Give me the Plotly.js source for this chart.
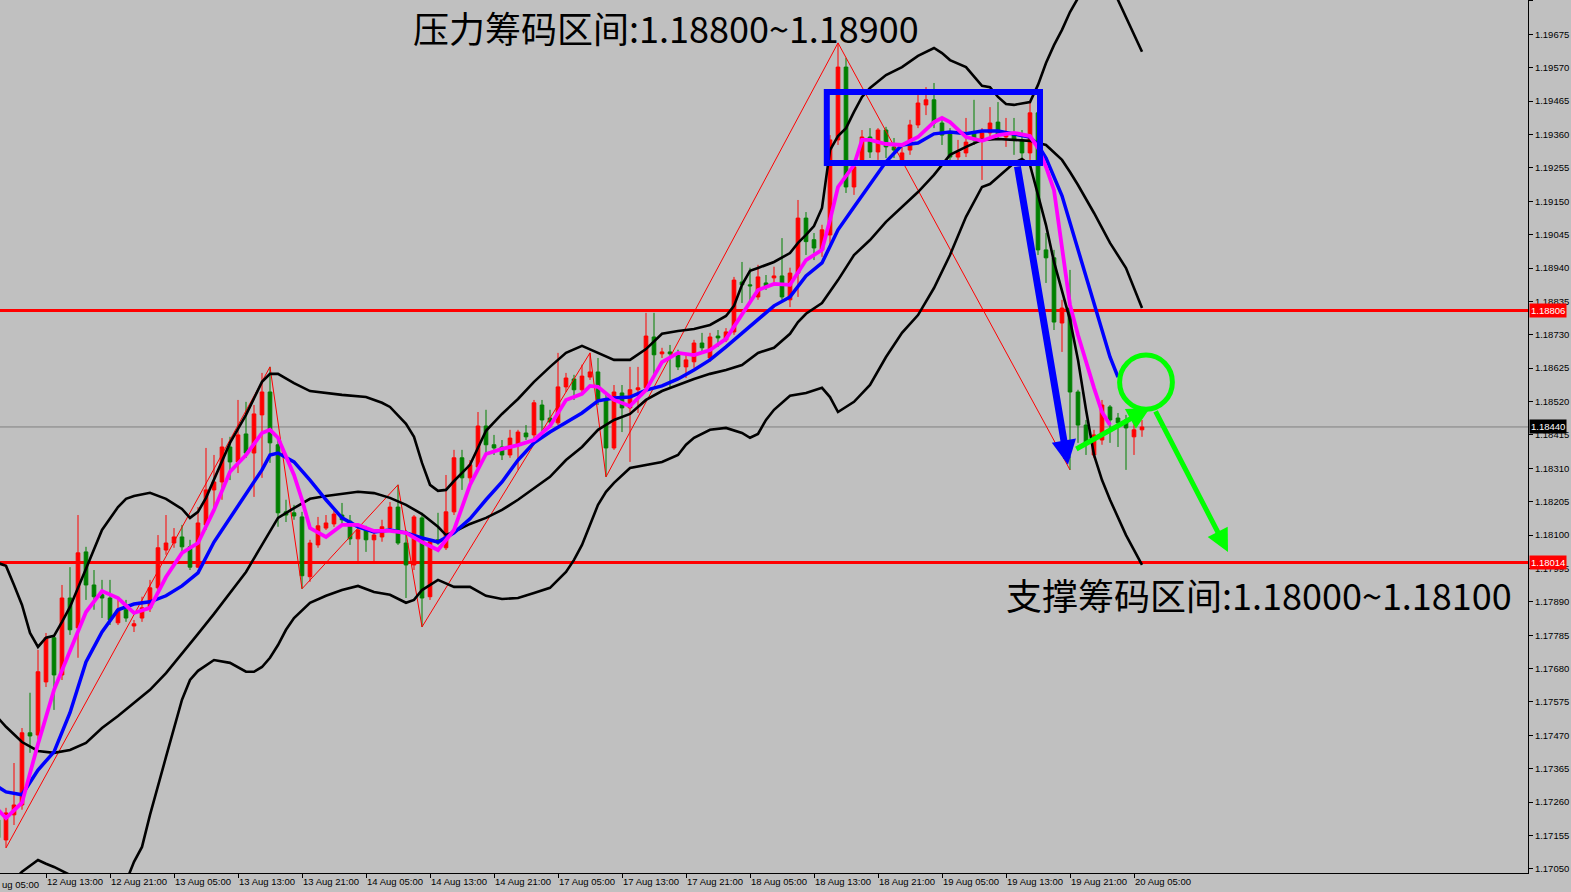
<!DOCTYPE html>
<html>
<head>
<meta charset="utf-8">
<script src="https://cdn.plot.ly/plotly-3.0.1.min.js"></script>
<style>
html,body{margin:0;padding:0;background:#C0C0C0;}
#chart{width:1571px;height:892px;}
</style>
</head>
<body>
<div id="chart"></div>
<script>
// ---- Candles (H1 EURUSD), first bar is index -1 ----
var opens = [1.17204,1.17141,1.17220,1.17251,1.17478,1.17471,1.17638,1.17777,1.17660,1.17902,1.17808,1.18047,1.17943,1.17912,1.17902,1.17824,1.17865,1.17814,1.17839,1.17871,1.17934,1.18053,1.18075,1.18094,1.18063,1.17999,1.18132,1.18242,1.18267,1.18377,1.18330,1.18418,1.18358,1.18478,1.18550,1.18384,1.18173,1.18170,1.18157,1.17969,1.18069,1.18122,1.18135,1.18163,1.18144,1.18088,1.18116,1.18085,1.18094,1.18122,1.18188,1.18075,1.18006,1.18154,1.17906,1.18085,1.18060,1.18173,1.18343,1.18280,1.18314,1.18443,1.18384,1.18377,1.18352,1.18384,1.18421,1.18415,1.18509,1.18468,1.18453,1.18566,1.18591,1.18557,1.18597,1.18613,1.18525,1.18374,1.18547,1.18500,1.18557,1.18563,1.18723,1.18670,1.18676,1.18673,1.18629,1.18645,1.18704,1.18657,1.18726,1.18714,1.18739,1.18896,1.18887,1.18849,1.18893,1.18909,1.18915,1.18840,1.18924,1.19097,1.19029,1.18997,1.19044,1.19343,1.19572,1.19195,1.19280,1.19352,1.19305,1.19374,1.19321,1.19280,1.19311,1.19390,1.19453,1.19469,1.19396,1.19365,1.19289,1.19302,1.19365,1.19343,1.19365,1.19399,1.19352,1.19365,1.19343,1.19302,1.19428,1.18997,1.18972,1.18767,1.18814,1.18550,1.18446,1.18352,1.18399,1.18503,1.18468,1.18462,1.18409,1.18431];
var highs = [1.17220,1.17242,1.17383,1.17493,1.17604,1.17739,1.17792,1.17786,1.17943,1.17999,1.18163,1.18063,1.17990,1.17959,1.17959,1.17896,1.17896,1.17833,1.17906,1.17959,1.18100,1.18163,1.18122,1.18132,1.18085,1.18188,1.18374,1.18352,1.18405,1.18409,1.18525,1.18519,1.18509,1.18610,1.18629,1.18399,1.18211,1.18195,1.18173,1.18085,1.18157,1.18163,1.18185,1.18201,1.18163,1.18129,1.18129,1.18116,1.18148,1.18204,1.18258,1.18116,1.18163,1.18170,1.18085,1.18170,1.18289,1.18368,1.18368,1.18336,1.18487,1.18494,1.18415,1.18399,1.18431,1.18431,1.18446,1.18525,1.18525,1.18494,1.18673,1.18610,1.18604,1.18636,1.18673,1.18657,1.18541,1.18572,1.18572,1.18629,1.18629,1.18799,1.18799,1.18689,1.18698,1.18683,1.18667,1.18714,1.18736,1.18736,1.18745,1.18751,1.18912,1.18959,1.18941,1.18950,1.18918,1.18944,1.19034,1.18941,1.19154,1.19116,1.19050,1.19076,1.19358,1.19648,1.19601,1.19280,1.19374,1.19380,1.19380,1.19384,1.19349,1.19327,1.19406,1.19484,1.19509,1.19522,1.19412,1.19380,1.19343,1.19412,1.19469,1.19380,1.19446,1.19462,1.19412,1.19412,1.19374,1.19459,1.19437,1.19050,1.18997,1.18840,1.18934,1.18557,1.18462,1.18431,1.18525,1.18509,1.18484,1.18478,1.18453,1.18462];
var lows = [1.17125,1.17116,1.17188,1.17236,1.17415,1.17456,1.17622,1.17550,1.17644,1.17786,1.17714,1.17896,1.17865,1.17839,1.17817,1.17817,1.17827,1.17795,1.17827,1.17858,1.17921,1.18038,1.18060,1.18047,1.17990,1.17996,1.18116,1.18173,1.18211,1.18273,1.18295,1.18343,1.18220,1.18280,1.18327,1.18126,1.18141,1.18148,1.17931,1.17953,1.18060,1.18116,1.18126,1.18132,1.18069,1.18016,1.18047,1.18016,1.18079,1.18116,1.18069,1.17902,1.17990,1.17811,1.17896,1.18069,1.18053,1.18163,1.18242,1.18258,1.18305,1.18358,1.18352,1.18336,1.18343,1.18305,1.18399,1.18405,1.18409,1.18437,1.18446,1.18550,1.18525,1.18541,1.18588,1.18509,1.18283,1.18368,1.18424,1.18330,1.18484,1.18557,1.18604,1.18657,1.18563,1.18619,1.18594,1.18626,1.18676,1.18645,1.18692,1.18707,1.18730,1.18830,1.18830,1.18840,1.18871,1.18887,1.18840,1.18817,1.18849,1.18981,1.18965,1.18975,1.19012,1.19327,1.19176,1.19170,1.19264,1.19286,1.19280,1.19286,1.19286,1.19270,1.19296,1.19380,1.19421,1.19380,1.19327,1.19280,1.19280,1.19289,1.19327,1.19217,1.19352,1.19343,1.19321,1.19296,1.19280,1.19280,1.18981,1.18893,1.18745,1.18676,1.18305,1.18390,1.18352,1.18343,1.18384,1.18390,1.18377,1.18305,1.18352,1.18409];
var closes = [1.17148,1.17226,1.17251,1.17478,1.17468,1.17670,1.17777,1.17660,1.17902,1.17802,1.18044,1.17943,1.17906,1.17902,1.17833,1.17865,1.17839,1.17821,1.17871,1.17934,1.18060,1.18075,1.18094,1.18063,1.17999,1.18138,1.18242,1.18267,1.18377,1.18330,1.18415,1.18358,1.18481,1.18550,1.18390,1.18170,1.18163,1.18160,1.17972,1.18075,1.18129,1.18138,1.18166,1.18148,1.18088,1.18116,1.18085,1.18100,1.18126,1.18188,1.18075,1.18006,1.18157,1.17902,1.18079,1.18075,1.18173,1.18343,1.18280,1.18321,1.18443,1.18384,1.18374,1.18352,1.18405,1.18424,1.18409,1.18516,1.18462,1.18456,1.18566,1.18594,1.18557,1.18600,1.18613,1.18525,1.18374,1.18550,1.18500,1.18557,1.18563,1.18726,1.18667,1.18676,1.18670,1.18629,1.18651,1.18704,1.18689,1.18723,1.18720,1.18739,1.18902,1.18887,1.18884,1.18912,1.18884,1.18915,1.18849,1.18924,1.19097,1.19023,1.19003,1.19060,1.19343,1.19572,1.19195,1.19258,1.19352,1.19305,1.19374,1.19321,1.19311,1.19302,1.19390,1.19459,1.19469,1.19396,1.19358,1.19289,1.19305,1.19336,1.19343,1.19365,1.19396,1.19358,1.19368,1.19343,1.19302,1.19428,1.18997,1.18972,1.18770,1.18814,1.18550,1.18446,1.18390,1.18415,1.18509,1.18462,1.18453,1.18437,1.18431,1.18440];

// ---- Indicators (bar index, price) ----
var maFastBars = [-1,0,2,4,6,8,10,12,14,16,18,20,22,24,26,28,30,32,33,34,36,37,38,40,42,44,46,48,50,52,54,56,58,60,62,64,66,68,70,72,73,74,76,78,80,82,84,86,88,90,92,94,96,98,100,102,103,104,106,107,108,110,112,114,116,117,118,120,122,124,126,128,129,130,131,132,133,134,135,136,137,138];
var maFast = [1.17236,1.17210,1.17258,1.17443,1.17613,1.17732,1.17858,1.17924,1.17902,1.17855,1.17871,1.17968,1.18044,1.18075,1.18179,1.18299,1.18352,1.18421,1.18431,1.18406,1.18289,1.18211,1.18122,1.18094,1.18132,1.18132,1.18113,1.18113,1.18107,1.18078,1.18053,1.18116,1.18258,1.18355,1.18371,1.18383,1.18399,1.18443,1.18525,1.18544,1.18569,1.18566,1.18525,1.18506,1.18556,1.18644,1.18673,1.18666,1.18682,1.18717,1.18792,1.18871,1.18890,1.18887,1.18965,1.18997,1.19091,1.19195,1.19264,1.19343,1.19343,1.19330,1.19327,1.19352,1.19399,1.19412,1.19399,1.19352,1.19340,1.19358,1.19365,1.19355,1.19318,1.19258,1.19185,1.19012,1.18824,1.18729,1.18644,1.18563,1.18487,1.18446];

var maSlowBars = [-1,0,2,4,6,8,10,12,14,16,18,20,22,24,26,28,30,32,33,34,36,38,40,42,44,46,48,50,52,54,56,58,60,62,64,66,68,70,72,74,76,78,80,82,84,86,88,90,92,94,96,98,100,102,104,106,108,110,112,114,116,118,120,122,124,126,128,129,130,132,134,136,138,139];
var maSlow = [1.17308,1.17292,1.17283,1.17361,1.17418,1.17541,1.17701,1.17795,1.17865,1.17883,1.17890,1.17909,1.17940,1.17981,1.18078,1.18154,1.18226,1.18305,1.18352,1.18358,1.18330,1.18273,1.18211,1.18154,1.18126,1.18110,1.18116,1.18107,1.18091,1.18078,1.18107,1.18151,1.18211,1.18267,1.18336,1.18390,1.18424,1.18453,1.18484,1.18522,1.18531,1.18534,1.18556,1.18569,1.18591,1.18619,1.18651,1.18692,1.18736,1.18777,1.18821,1.18849,1.18915,1.18956,1.19060,1.19132,1.19204,1.19274,1.19327,1.19333,1.19362,1.19368,1.19362,1.19371,1.19371,1.19362,1.19352,1.19327,1.19286,1.19167,1.18997,1.18830,1.18660,1.18597];

var bbUpperBars = [-1,0,1,2,3,4,5,6,7,8,10,12,14,15,16,18,20,22,23,24,25,26,27,28,30,32,33,34,36,38,42,45,47,48,50,51,52,53,54,55,56,58,60,62,64,66,68,70,72,74,76,78,80,82,84,86,88,90,91,92,93,94,96,98,99,100,101,102,103,104,105,106,107,108,110,112,114,116,117,118,120,122,123,124,125,126,128,129,130,131,132,133,134,136,138,139,140,141,142];
var bbUpper = [1.18012,1.18003,1.17943,1.17880,1.17792,1.17748,1.17777,1.17783,1.17827,1.17874,1.17994,1.18116,1.18188,1.18214,1.18223,1.18233,1.18214,1.18182,1.18154,1.18173,1.18217,1.18273,1.18333,1.18390,1.18478,1.18582,1.18607,1.18607,1.18578,1.18553,1.18541,1.18534,1.18516,1.18503,1.18450,1.18409,1.18327,1.18258,1.18239,1.18242,1.18270,1.18321,1.18428,1.18481,1.18528,1.18582,1.18629,1.18673,1.18695,1.18673,1.18651,1.18651,1.18685,1.18733,1.18742,1.18748,1.18761,1.18789,1.18821,1.18887,1.18931,1.18940,1.18959,1.18987,1.19019,1.19044,1.19072,1.19129,1.19311,1.19355,1.19380,1.19431,1.19478,1.19506,1.19547,1.19572,1.19607,1.19632,1.19616,1.19594,1.19572,1.19513,1.19509,1.19478,1.19456,1.19453,1.19462,1.19516,1.19585,1.19641,1.19689,1.19745,1.19789,1.19862,1.19846,1.19783,1.19730,1.19673,1.19620];

var bbMidBars = [-1,0,2,4,6,8,10,12,14,16,18,20,22,24,26,28,30,32,34,36,38,40,42,44,46,48,50,52,54,55,56,58,60,62,64,66,68,70,72,74,76,78,80,82,84,86,88,90,92,94,96,98,99,100,102,104,106,108,110,112,114,116,118,120,122,124,126,128,130,132,133,134,136,138,140,142];
var bbMid = [1.17525,1.17497,1.17449,1.17421,1.17415,1.17424,1.17446,1.17493,1.17531,1.17572,1.17613,1.17666,1.17726,1.17789,1.17852,1.17918,1.17984,1.18069,1.18154,1.18185,1.18214,1.18223,1.18229,1.18236,1.18232,1.18217,1.18195,1.18166,1.18126,1.18100,1.18110,1.18135,1.18154,1.18179,1.18211,1.18248,1.18283,1.18336,1.18377,1.18431,1.18462,1.18481,1.18525,1.18553,1.18572,1.18591,1.18607,1.18619,1.18635,1.18673,1.18689,1.18733,1.18770,1.18796,1.18830,1.18902,1.18981,1.19028,1.19085,1.19132,1.19179,1.19233,1.19296,1.19321,1.19343,1.19346,1.19343,1.19340,1.19327,1.19280,1.19242,1.19201,1.19113,1.19019,1.18940,1.18814];

var bbLowerBars = [-1,0,2,4,5,6,8,10,12,14,15,16,17,18,20,22,23,24,26,28,30,31,32,33,34,35,36,38,40,42,44,46,48,50,51,52,54,56,58,60,62,64,66,68,70,71,72,73,74,75,76,78,80,82,84,85,86,88,90,92,93,94,95,96,98,100,102,103,104,106,108,110,112,114,116,118,120,122,123,124,126,127,128,129,130,131,132,133,134,135,136,137,138,140,142];
var bbLower = [1.16968,1.16990,1.17041,1.17078,1.17066,1.17056,1.17031,1.16975,1.16959,1.16984,1.17009,1.17072,1.17119,1.17220,1.17402,1.17582,1.17644,1.17673,1.17707,1.17698,1.17670,1.17670,1.17685,1.17714,1.17754,1.17802,1.17839,1.17887,1.17909,1.17927,1.17940,1.17921,1.17912,1.17887,1.17896,1.17927,1.17959,1.17937,1.17937,1.17909,1.17899,1.17902,1.17918,1.17934,1.17984,1.18022,1.18069,1.18132,1.18195,1.18236,1.18264,1.18311,1.18321,1.18330,1.18352,1.18384,1.18406,1.18431,1.18437,1.18421,1.18406,1.18418,1.18462,1.18494,1.18538,1.18547,1.18563,1.18534,1.18487,1.18519,1.18572,1.18660,1.18736,1.18792,1.18877,1.18981,1.19101,1.19195,1.19204,1.19226,1.19270,1.19283,1.19264,1.19170,1.19075,1.18959,1.18871,1.18777,1.18651,1.18494,1.18352,1.18273,1.18211,1.18100,1.18006];

var zigzagBars = [0,33,37,49,52,73,75,104,133];
var zigzag = [1.17116,1.18629,1.17931,1.18258,1.17811,1.18673,1.18283,1.19648,1.18305];

// ---- Levels and drawn objects ----
var resistanceLevel = 1.18806;
var supportLevel = 1.18014;
var bidPrice = 1.18440;
var boxBars = [102.6, 129.25];
var boxPrices = [1.19270, 1.19494];
var blueArrow = {bars:[126.4, 132.75], prices:[1.19264, 1.18321]};
var greenArrowUp = {bars:[133.6, 143.0], prices:[1.18368, 1.18500]};
var greenArrowDown = {bars:[143.6, 152.75], prices:[1.18494, 1.18047]};
var circleBars = [139.2, 145.8];
var circlePrices = [1.18496, 1.18666];

// ---- Axis labels ----
var tickBars = [5,13,21,29,37,45,53,61,69,77,85,93,101,109,117,125,133,141];
var tickLabels = ["12 Aug 13:00","12 Aug 21:00","13 Aug 05:00","13 Aug 13:00","13 Aug 21:00","14 Aug 05:00","14 Aug 13:00","14 Aug 21:00","17 Aug 05:00","17 Aug 13:00","17 Aug 21:00","18 Aug 05:00","18 Aug 13:00","18 Aug 21:00","19 Aug 05:00","19 Aug 13:00","19 Aug 21:00","20 Aug 05:00"];
var firstCutLabel = "ug 05:00";
var titleTop = "压力筹码区间:1.18800~1.18900";
var titleBottom = "支撑筹码区间:1.18000~1.18100";

var barX = opens.map(function(_, k){ return k - 1; });
var tickFont = {family:"Liberation Sans, Arial, sans-serif", size:9.5, color:"#000000"};
var cjkFont = {family:"Noto Sans CJK SC, sans-serif", size:36, color:"#000000"};

function lineTrace(x, y, color, width){
  return {type:"scatter", mode:"lines", x:x, y:y, hoverinfo:"skip", showlegend:false,
          line:{color:color, width:width, shape:"linear"}};
}

var traces = [
  {type:"candlestick", x:barX, open:opens, high:highs, low:lows, close:closes,
   increasing:{line:{color:"#FF0000", width:1}, fillcolor:"#FF0000"},
   decreasing:{line:{color:"#008000", width:1}, fillcolor:"#008000"},
   whiskerwidth:0, hoverinfo:"skip", showlegend:false},
  lineTrace(zigzagBars, zigzag, "#FF0000", 1),
  lineTrace(bbUpperBars, bbUpper, "#000000", 2.6),
  lineTrace(bbMidBars, bbMid, "#000000", 2.6),
  lineTrace(bbLowerBars, bbLower, "#000000", 2.6),
  lineTrace(maSlowBars, maSlow, "#0000FF", 3.5),
  lineTrace(maFastBars, maFast, "#FF00FF", 3.8)
];

function arrow(a, width, size, color){
  return {x:a.bars[1], y:a.prices[1], ax:a.bars[0], ay:a.prices[0],
          xref:"x", yref:"y", axref:"x", ayref:"y", text:"", showarrow:true,
          arrowhead:2, arrowsize:size, arrowwidth:width, arrowcolor:color,
          standoff:0, startstandoff:0};
}
function priceTag(p, bg){
  return {x:1, xref:"paper", xanchor:"left", xshift:1, y:p, yref:"y", yanchor:"middle",
          text:p.toFixed(5), showarrow:false, bgcolor:bg, borderpad:1,
          font:{family:tickFont.family, size:9.5, color:"#FFFFFF"}};
}

var layout = {
  width:1571, height:892,
  margin:{l:0, r:43, t:0, b:19, pad:0},
  paper_bgcolor:"#C0C0C0", plot_bgcolor:"#C0C0C0",
  showlegend:false, boxgap:0.35, dragmode:false,
  xaxis:{range:[-0.75, 190.25], showgrid:false, zeroline:false, showline:true,
         linecolor:"#000000", linewidth:1, ticks:"outside", ticklen:4, tickcolor:"#000000",
         tickvals:tickBars, ticktext:tickLabels, ticklabelposition:"outside right", tickangle:0,
         tickfont:tickFont, rangeslider:{visible:false}, fixedrange:true, automargin:false},
  yaxis:{side:"right", range:[1.17037, 1.19783], tick0:1.17050, dtick:0.00105,
         tickformat:".5f", showgrid:false, zeroline:false, showline:true,
         linecolor:"#000000", linewidth:1, ticks:"outside", ticklen:4, tickcolor:"#000000",
         tickfont:tickFont, fixedrange:true, automargin:false},
  shapes:[
    {type:"line", xref:"paper", x0:0, x1:1, yref:"y", y0:resistanceLevel, y1:resistanceLevel,
     line:{color:"#FF0000", width:3}, layer:"below"},
    {type:"line", xref:"paper", x0:0, x1:1, yref:"y", y0:supportLevel, y1:supportLevel,
     line:{color:"#FF0000", width:3}, layer:"below"},
    {type:"line", xref:"paper", x0:0, x1:1, yref:"y", y0:bidPrice, y1:bidPrice,
     line:{color:"#808080", width:1}, layer:"below"},
    {type:"rect", xref:"x", yref:"y", x0:boxBars[0], x1:boxBars[1], y0:boxPrices[0], y1:boxPrices[1],
     line:{color:"#0000FF", width:6}, fillcolor:"rgba(0,0,0,0)", layer:"above"},
    {type:"circle", xref:"x", yref:"y", x0:circleBars[0], x1:circleBars[1], y0:circlePrices[0], y1:circlePrices[1],
     line:{color:"#00FF00", width:5}, fillcolor:"rgba(0,0,0,0)", layer:"above"}
  ],
  annotations:[
    arrow(blueArrow, 7, 0.7, "#0000FF"),
    arrow(greenArrowUp, 5, 0.9, "#00FF00"),
    arrow(greenArrowDown, 5, 0.9, "#00FF00"),
    priceTag(resistanceLevel, "#FF0000"),
    priceTag(supportLevel, "#FF0000"),
    priceTag(bidPrice, "#000000"),
    {x:0, xref:"paper", xanchor:"left", y:0, yref:"paper", yanchor:"top", yshift:-4,
     text:firstCutLabel, showarrow:false, font:tickFont},
    {x:666/1528, xref:"paper", xanchor:"center", y:1, yref:"paper", yanchor:"top", yshift:0,
     borderpad:0, text:titleTop, showarrow:false, font:cjkFont},
    {x:1004/1528, xref:"paper", xanchor:"left", y:1-594/873, yref:"paper", yanchor:"middle",
     text:titleBottom, showarrow:false, font:cjkFont}
  ]
};

Plotly.newPlot("chart", traces, layout, {displayModeBar:false, staticPlot:true});
</script>
</body>
</html>
